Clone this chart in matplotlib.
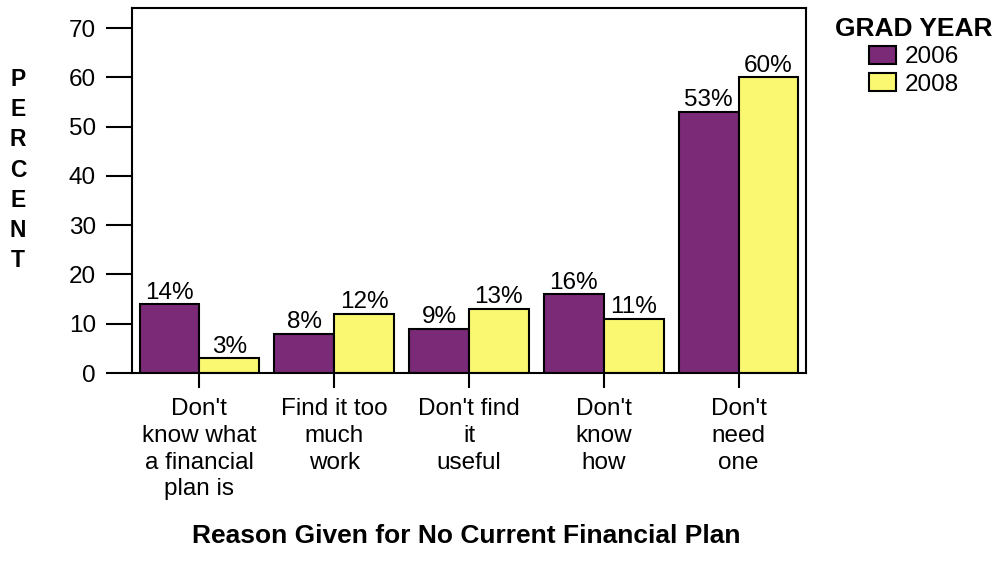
import matplotlib.pyplot as plt
import numpy as np

plt.rcParams['font.family'] = ['Liberation Sans', 'DejaVu Sans']

reasons = ["Don't\nknow what\na financial\nplan is", "Find it too\nmuch\nwork",
           "Don't find\nit\nuseful", "Don't\nknow\nhow", "Don't\nneed\none"]
pct_2006 = [14, 8, 9, 16, 53]
pct_2008 = [3, 12, 13, 11, 60]
years = ["2006", "2008"]
colors = ["#7b2a78", "#faf870"]

W, H = 996, 578
fig = plt.figure(figsize=(W / 100, H / 100), dpi=100)
ax = fig.add_axes([132 / W, 1 - 373 / H, 674 / W, 365 / H])

x = np.arange(len(reasons))
bw = 0.444
for off, vals, c, lab in [(-bw / 2, pct_2006, colors[0], years[0]),
                          (bw / 2, pct_2008, colors[1], years[1])]:
    bars = ax.bar(x + off, vals, bw, color=c, edgecolor='black', linewidth=1.5, label=lab)
    for b, v in zip(bars, vals):
        ax.text(b.get_x() + b.get_width() / 2, v + 0.1, f"{v}%", ha='center', va='bottom',
                fontsize=17.5)

ax.set_xlim(-0.5, len(reasons) - 0.5)
ax.set_ylim(0, 74.1)
ax.set_yticks(range(0, 71, 10))
ax.set_xticks(x)
ax.set_xticklabels(reasons, fontsize=17.5, linespacing=1.28)
ax.tick_params(axis='y', length=19, width=1.5, labelsize=17.5, pad=7)
ax.tick_params(axis='x', length=11, width=1.5, pad=7)
for s in ax.spines.values():
    s.set_linewidth(1.5)

fig.text(18 / W, 1 - 170 / H, "\n".join("PERCENT"), ha='center', va='center',
         fontsize=16.5, fontweight='bold', linespacing=1.40)
fig.text(466 / W, 1 - 536 / H, "Reason Given for No Current Financial Plan",
         ha='center', va='center', fontsize=19, fontweight='bold')

leg = fig.legend(loc='upper left', bbox_to_anchor=(835 / W, 1 - 17 / H), frameon=False,
                 title="GRAD YEAR", fontsize=17.5, handlelength=1.12, handleheight=0.76,
                 handletextpad=0.36, labelspacing=0.2, borderpad=0, borderaxespad=0,
                 alignment='center')
leg.get_title().set_fontweight('bold')
leg.get_title().set_fontsize(19)

fig.savefig("out.png", dpi=100)
